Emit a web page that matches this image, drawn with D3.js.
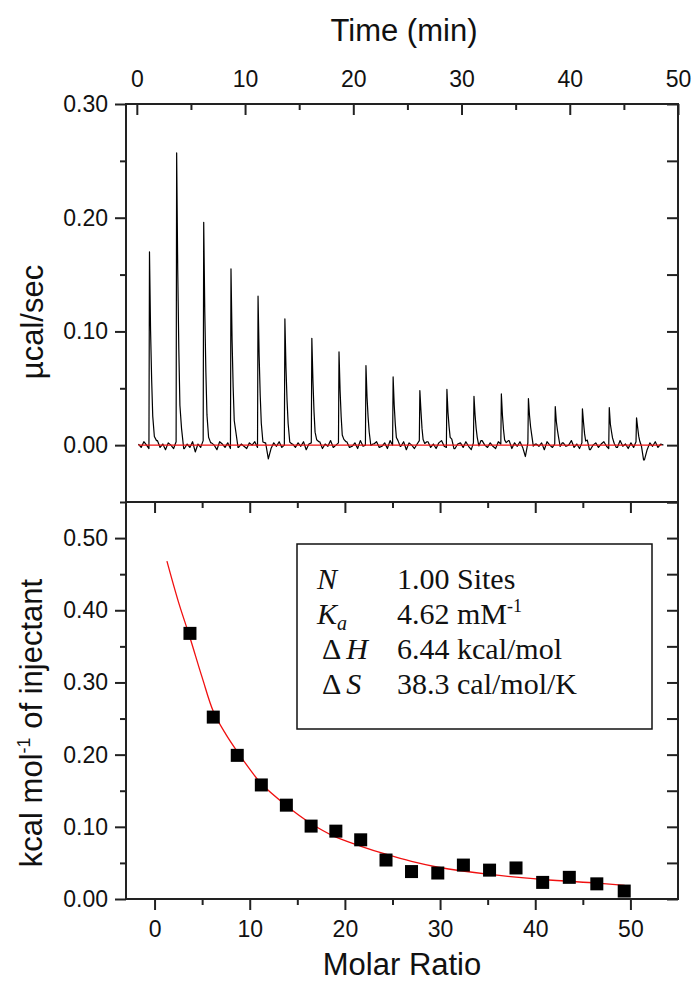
<!DOCTYPE html>
<html>
<head>
<meta charset="utf-8">
<script src="https://cdnjs.cloudflare.com/ajax/libs/d3/7.8.5/d3.min.js"></script>
<style>
  body { margin: 0; background: #fff; }
  .chart text { font-family: "Liberation Sans", Arial, sans-serif; fill: #111; }
  .axis line { stroke: #222; stroke-width: 2; }
  .axis text { font-size: 23px; }
  .title { font-size: 31px; }
  .fit text { font-family: "Liberation Serif", "Times New Roman", serif; font-size: 30px; }
</style>
</head>
<body>
<div class="chart"></div>
<script>
const width = 694;
const height = 987;

// raw thermogram: apex time of each injection (min) and its height (µcal/sec)
const injectionTimes = [1.17, 3.68, 6.18, 8.7, 11.2, 13.68, 16.17, 18.68, 21.17, 23.68,
    26.15, 28.65, 31.15, 33.68, 36.18, 38.66, 41.17, 43.65, 46.17];
const peakHeights = [0.170, 0.257, 0.196, 0.155, 0.131, 0.111, 0.094, 0.082, 0.070, 0.060,
    0.048, 0.049, 0.043, 0.045, 0.041, 0.034, 0.032, 0.033, 0.024];
// shape of one peak: offset from apex (min) and fraction of the peak height
const peakOffsets = [-0.05, 0, 0.1, 0.2, 0.3, 0.45, 0.65];
const peakShape = [0, 1, 0.6, 0.33, 0.14, 0.05, 0];
// baseline wiggle read every 0.25 min from 0.15 min, in 0.001 µcal/sec
const noiseStart = 0.15;
const noiseStep = 0.25;
const baselineNoise = [
    1,-2,3,0,-3,2,-1,4,-2,1,-4,2,0,-3,3,-1,2,-3,1,-2,
    3,-6,1,-2,4,-1,-3,2,0,-4,3,1,-2,2,-3,0,4,-2,1,-1,
    -3,2,0,3,-2,1,-4,2,-12,-3,2,-1,3,-2,0,4,-3,1,-2,2,
    -1,3,-4,1,2,-2,0,3,-3,1,-1,4,-2,0,2,-3,1,3,-2,-1,
    2,-3,4,-1,0,2,-4,1,3,-2,-1,2,-3,4,0,-2,1,-1,3,-4,
    2,0,-3,1,4,-2,-1,3,-2,1,-3,2,4,-1,-2,0,3,-3,1,2,
    -2,3,-1,-4,2,1,-3,4,0,-2,2,-1,-3,3,1,-2,0,4,-3,2,
    -1,3,-2,-10,2,4,-3,1,-1,2,-4,3,0,-2,1,3,-3,2,-1,0,
    4,-2,1,-3,2,-1,3,-4,0,2,-2,1,3,-1,-3,2,0,-2,4,-1,
    1,-3,2,-2,3,0,-2,-13,-4,2,-1,3,-2,1,0
];
const baselineTimes = [0.15, 48.5];
const baselineValues = [0, 0];

// integrated heats and fitted curve
const molarRatio = [3.72, 6.17, 8.69, 11.22, 13.85, 16.45, 19.05, 21.66, 24.32,
    27.0, 29.76, 32.45, 35.2, 37.98, 40.78, 43.58, 46.47, 49.35];
const heatPerMol = [0.368, 0.252, 0.199, 0.158, 0.130, 0.101, 0.094, 0.082, 0.054,
    0.038, 0.036, 0.047, 0.040, 0.043, 0.023, 0.030, 0.021, 0.011];
const fitRatio = [1.3, 2.5, 3.7, 5, 6.2, 7.5, 8.7, 10, 11.2, 13.8, 16.4, 19.0, 21.7,
    24.3, 27.0, 29.8, 35.2, 40.8, 46.5, 49.4];
const fitHeat = [0.468, 0.412, 0.363, 0.307, 0.259, 0.228, 0.204, 0.180, 0.160, 0.130,
    0.105, 0.086, 0.073, 0.062, 0.052, 0.044, 0.034, 0.027, 0.022, 0.019];

const timeTicks = [0, 10, 20, 30, 40, 50];
const timeMinor = [5, 15, 25, 35, 45];
const rawTicks = [0, 0.1, 0.2, 0.3];
const rawMinor = [-0.05, 0.05, 0.15, 0.25];
const ratioTicks = [0, 10, 20, 30, 40, 50];
const ratioMinor = [5, 15, 25, 35, 45];
const heatTicks = [0, 0.1, 0.2, 0.3, 0.4, 0.5];
const heatMinor = [0.05, 0.15, 0.25, 0.35, 0.45];

const fitSymbols = ["N", "K", "H", "S"];
const fitSubs = ["", "a", "", ""];
const fitDelta = [false, false, true, true];
const fitValues = ["1.00 Sites", "4.62 mM", "6.44 kcal/mol", "38.3 cal/mol/K"];
const fitSups = ["", "-1", "", ""];

let svg = d3.select(".chart")
    .append("svg")
    .attr("width", width)
    .attr("height", height);

const left = 126, right = 678;
const topY = 104, midY = 502, bottomY = 899;

let xTime = d3.scaleLinear().domain([-1, 50]).range([left, right]);
let yRaw = d3.scaleLinear().domain([-0.05, 0.30]).range([midY, topY]);
let xRatio = d3.scaleLinear().domain([-3, 55]).range([left, right]);
let yHeat = d3.scaleLinear().domain([0, 0.55]).range([bottomY, midY]);

function addAxis(gen, x, y) {
    svg.append("g")
        .attr("class", "axis")
        .attr("transform", `translate(${x},${y})`)
        .call(gen)
        .call(g => g.select(".domain").remove());
}

// top panel axes
addAxis(d3.axisTop(xTime).tickValues(timeTicks).tickSize(-11).tickPadding(17).tickFormat(d3.format("d")), 0, topY);
addAxis(d3.axisTop(xTime).tickValues(timeMinor).tickSize(-6).tickFormat(""), 0, topY);
addAxis(d3.axisLeft(yRaw).tickValues(rawTicks).tickSize(11).tickPadding(7).tickFormat(d3.format(".2f")), left, 0);
addAxis(d3.axisLeft(yRaw).tickValues(rawMinor).tickSize(6).tickFormat(""), left, 0);
addAxis(d3.axisRight(yRaw).tickValues(rawTicks.concat(rawMinor)).tickSize(-11).tickFormat(""), right, 0);

// bottom panel axes
addAxis(d3.axisBottom(xRatio).tickValues(ratioTicks).tickSize(11).tickPadding(11).tickFormat(d3.format("d")), 0, bottomY);
addAxis(d3.axisBottom(xRatio).tickValues(ratioMinor).tickSize(6).tickFormat(""), 0, bottomY);
addAxis(d3.axisTop(xRatio).tickValues(ratioTicks).tickSize(-11).tickFormat(""), 0, midY);
addAxis(d3.axisTop(xRatio).tickValues(ratioMinor).tickSize(-6).tickFormat(""), 0, midY);
addAxis(d3.axisLeft(yHeat).tickValues(heatTicks).tickSize(11).tickPadding(7).tickFormat(d3.format(".2f")), left, 0);
addAxis(d3.axisLeft(yHeat).tickValues(heatMinor).tickSize(6).tickFormat(""), left, 0);
addAxis(d3.axisRight(yHeat).tickValues(heatTicks.concat(heatMinor, [0.55])).tickSize(-11).tickFormat(""), right, 0);

// panel frames
[[topY, midY], [midY, bottomY]].forEach(p => {
    svg.append("rect")
        .attr("x", left).attr("y", p[0])
        .attr("width", right - left).attr("height", p[1] - p[0])
        .attr("fill", "none").attr("stroke", "#222").attr("stroke-width", 2);
});

// raw trace: baseline points outside the peaks plus the peak shapes
let trace = [];
baselineNoise.forEach((n, i) => {
    let t = noiseStart + i * noiseStep;
    let inPeak = injectionTimes.some(ti => t > ti + peakOffsets[0] - 0.03 && t < ti + peakOffsets[peakOffsets.length - 1] + 0.03);
    if (!inPeak) trace.push({t: t, v: n / 1000});
});
injectionTimes.forEach((ti, k) => {
    peakOffsets.forEach((o, j) => {
        let t = ti + o;
        let n = baselineNoise[Math.round((t - noiseStart) / noiseStep)] || 0;
        trace.push({t: t, v: peakHeights[k] * peakShape[j] + n * (1 - peakShape[j]) / 1000});
    });
});
trace.sort((a, b) => a.t - b.t);

let rawLine = d3.line().x(d => xTime(d.t)).y(d => yRaw(d.v));

svg.append("path")
    .datum(trace)
    .attr("d", rawLine)
    .attr("fill", "none")
    .attr("stroke", "#000")
    .attr("stroke-width", 1.2)
    .attr("stroke-linejoin", "round");

svg.append("path")
    .datum(baselineTimes.map((t, i) => ({t: t, v: baselineValues[i]})))
    .attr("d", rawLine)
    .attr("fill", "none")
    .attr("stroke", "#f01010")
    .attr("stroke-width", 1.3);

// integrated heats
let fitLine = d3.line()
    .x(d => xRatio(d[0]))
    .y(d => yHeat(d[1]))
    .curve(d3.curveCatmullRom);

svg.append("path")
    .datum(fitRatio.map((r, i) => [r, fitHeat[i]]))
    .attr("d", fitLine)
    .attr("fill", "none")
    .attr("stroke", "#f01010")
    .attr("stroke-width", 1.3);

const sq = 13;
svg.selectAll("rect.pt")
    .data(molarRatio)
    .enter()
    .append("rect")
    .attr("class", "pt")
    .attr("x", d => xRatio(d) - sq / 2)
    .attr("y", (d, i) => yHeat(heatPerMol[i]) - sq / 2)
    .attr("width", sq)
    .attr("height", sq)
    .attr("fill", "#000");

// titles
svg.append("text").attr("class", "title")
    .attr("x", 404).attr("y", 41).attr("text-anchor", "middle")
    .text("Time (min)");

svg.append("text").attr("class", "title")
    .attr("x", 402).attr("y", 975).attr("text-anchor", "middle")
    .text("Molar Ratio");

svg.append("text").attr("class", "title")
    .attr("transform", "translate(43,322) rotate(-90)")
    .attr("text-anchor", "middle")
    .text("µcal/sec");

let heatTitle = svg.append("text").attr("class", "title")
    .attr("transform", "translate(42,723) rotate(-90)")
    .attr("text-anchor", "middle");
heatTitle.append("tspan").text("kcal mol");
heatTitle.append("tspan").attr("dy", -12).style("font-size", "18px").text("-1");
heatTitle.append("tspan").attr("dy", 12).text(" of injectant");

// fit result box
let fit = svg.append("g").attr("class", "fit");
fit.append("rect")
    .attr("x", 297).attr("y", 544)
    .attr("width", 355).attr("height", 185)
    .attr("fill", "#fff").attr("stroke", "#111").attr("stroke-width", 1.5);

fitSymbols.forEach((s, i) => {
    let y = 589 + i * 35;
    let lab = fit.append("text").attr("y", y);
    if (fitDelta[i]) {
        lab.attr("x", 322);
        lab.append("tspan").text("Δ");
        lab.append("tspan").attr("dx", 5).style("font-style", "italic").text(s);
    } else {
        lab.attr("x", 317);
        lab.append("tspan").style("font-style", "italic").text(s);
        if (fitSubs[i]) {
            lab.append("tspan").attr("dy", 6).style("font-style", "italic").style("font-size", "20px").text(fitSubs[i]);
        }
    }
    let val = fit.append("text").attr("x", 397).attr("y", y);
    val.append("tspan").text(fitValues[i]);
    if (fitSups[i]) {
        val.append("tspan").attr("dy", -12).style("font-size", "18px").text(fitSups[i]);
    }
});
</script>
</body>
</html>
